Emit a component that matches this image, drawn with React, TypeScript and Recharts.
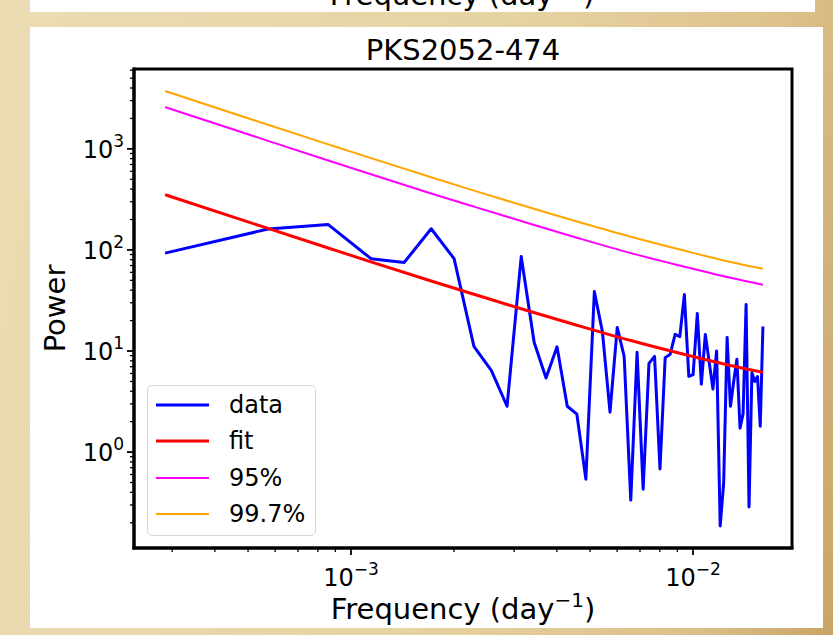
import React from "react";
import { LineChart, Line, XAxis, YAxis, Legend, ReferenceArea } from "recharts";

const FONT = "'DejaVu Sans', sans-serif";

// periodogram frequencies (day^-1)
const freq = [
  0.000286, 0.000572, 0.000858, 0.001144, 0.00143, 0.001716, 0.002002, 0.002288,
  0.002574, 0.00286, 0.003146, 0.003432, 0.003718, 0.004004, 0.00429, 0.004576,
  0.004862, 0.005148, 0.005434, 0.00572, 0.006006, 0.006292, 0.006578, 0.006864,
  0.00715, 0.007436, 0.007722, 0.008008, 0.008294, 0.00858, 0.008866, 0.009152,
  0.009438, 0.009724, 0.01001, 0.010296, 0.010582, 0.010868, 0.011154, 0.01144,
  0.011726, 0.012012, 0.012298, 0.012584, 0.01287, 0.013156, 0.013442, 0.013728,
  0.014014, 0.0143, 0.014586, 0.014872, 0.015158, 0.015444, 0.01573, 0.016016,
];
const power = [
  93, 161, 178, 82, 75, 162, 82, 11.1,
  6.4, 2.84, 86, 12.2, 5.4, 11.0, 2.84, 2.37,
  0.54, 38.7, 15.6, 2.48, 17.1, 8.85, 0.335, 9.7,
  0.43, 7.55, 8.85, 0.68, 8.6, 9.3, 14.6, 13.9,
  36.2, 5.6, 5.85, 23.5, 4.7, 14.6, 7.8, 4.2,
  10.0, 0.186, 0.5, 13.6, 2.84, 5.0, 8.3, 1.72,
  2.4, 28.8, 0.286, 6.1, 5.0, 5.6, 1.8, 17.5,
];

// model curves, read at a subset of frequencies
const fitFreq = [0.000286, 0.000572, 0.000858, 0.001144, 0.001716, 0.002288, 0.003146, 0.004576, 0.006578, 0.009152, 0.01287, 0.016016];
const fitPower = [352, 163.2, 104.5, 76.3, 49.3, 36.4, 26.2, 18.0, 12.7, 9.5, 7.2, 6.15];
const conf95 = [2587, 1200, 768, 561, 362, 268, 193, 132, 93, 70, 53, 45.2];
const conf997 = [3731, 1730, 1108, 809, 523, 386, 278, 191, 135, 101, 76, 65.2];

const xMajor = [0.001, 0.01];
const xMinor = [0.0003, 0.0004, 0.0005, 0.0006, 0.0007, 0.0008, 0.0009, 0.002, 0.003, 0.004, 0.005, 0.006, 0.007, 0.008, 0.009];
const yMajor = [1, 10, 100, 1000];
const yMinor = [
  0.2, 0.3, 0.4, 0.5, 0.6, 0.7, 0.8, 0.9,
  2, 3, 4, 5, 6, 7, 8, 9,
  20, 30, 40, 50, 60, 70, 80, 90,
  200, 300, 400, 500, 600, 700, 800, 900,
  2000, 3000, 4000, 5000, 6000,
];

const X_DOMAIN = [0.000232, 0.01948];
const Y_DOMAIN = [0.1125, 6166];

const series = [
  { name: "data", color: "#0000ff", width: 3 },
  { name: "fit", color: "#ff0000", width: 3 },
  { name: "95%", color: "#ff00ff", width: 2 },
  { name: "99.7%", color: "#ffa500", width: 2 },
];

const dataRows = freq.map((f, i) => ({ f, v: power[i] }));
const fitRows = fitFreq.map((f, i) => ({ f, v: fitPower[i] }));
const c95Rows = fitFreq.map((f, i) => ({ f, v: conf95[i] }));
const c997Rows = fitFreq.map((f, i) => ({ f, v: conf997[i] }));

const expText = (v: number) => String(Math.round(Math.log10(v))).replace("-", "\u2212");

const XTick = (props: any) => {
  const { x, y, payload } = props;
  const major = xMajor.includes(payload.value);
  return (
    <g>
      <line x1={x} x2={x} y1={y} y2={y + (major ? 7 : 4)} stroke="#000" strokeWidth={major ? 1.8 : 1.3} />
      {major && (
        <text x={x} y={y + 38} textAnchor="middle" fontSize={24} fontFamily={FONT} fill="#000">
          10<tspan dy={-11} fontSize={17}>{expText(payload.value)}</tspan>
        </text>
      )}
    </g>
  );
};

const YTick = (props: any) => {
  const { x, y, payload } = props;
  const major = yMajor.includes(payload.value);
  return (
    <g>
      <line x1={x} x2={x - (major ? 7 : 4)} y1={y} y2={y} stroke="#000" strokeWidth={major ? 1.8 : 1.3} />
      {major && (
        <text x={x - 10} y={y + 9} textAnchor="end" fontSize={24} fontFamily={FONT} fill="#000">
          10<tspan dy={-11} fontSize={17}>{expText(payload.value)}</tspan>
        </text>
      )}
    </g>
  );
};

const LegendBox = () => (
  <div
    style={{
      width: 169,
      height: 151,
      boxSizing: "border-box",
      border: "1px solid #d6d6d6",
      borderRadius: 5,
      background: "rgba(255,255,255,0.8)",
      position: "relative",
      fontFamily: FONT,
      fontSize: 24,
      color: "#000",
    }}
  >
    {series.map((s, i) => (
      <div key={s.name} style={{ position: "absolute", left: 0, top: 4 + i * 36.3, height: 30, display: "flex", alignItems: "center" }}>
        <svg width={81} height={30}>
          <line x1={8} x2={61} y1={15} y2={15} stroke={s.color} strokeWidth={s.width} />
        </svg>
        <span style={{ lineHeight: "30px" }}>{s.name}</span>
      </div>
    ))}
  </div>
);

const spine = { stroke: "#000", strokeWidth: 3, strokeLinecap: "square" as const };

export default function App() {
  return (
    <div
      style={{
        position: "absolute",
        left: 0,
        top: 0,
        width: 833,
        height: 635,
        overflow: "hidden",
        background: "linear-gradient(100deg, #ecdcb4 0%, #e6d3a2 55%, #dcc08a 85%, #c9a466 100%)",
      }}
    >
      <svg style={{ position: "absolute", left: 30, top: 0 }} width={785} height={12}>
        <rect x={0} y={0} width={785} height={12} fill="#fff" />
        <text x={432} y={5} textAnchor="middle" fontSize={29} fontFamily={FONT} fill="#000">
          Frequency (day<tspan dy={-12} fontSize={20}>{"\u2212"}1</tspan><tspan dy={12}>)</tspan>
        </text>
      </svg>
      <div style={{ position: "absolute", left: 30, top: 27, width: 793, height: 601, background: "#fff" }}>
        <svg style={{ position: "absolute", left: 0, top: 0 }} width={793} height={42}>
          <text x={433} y={33} textAnchor="middle" fontSize={29} fontFamily={FONT} fill="#000">
            PKS2052-474
          </text>
        </svg>
        <LineChart width={793} height={601} margin={{ top: 42, right: 31, bottom: 0, left: 0 }}>
          <XAxis
            dataKey="f"
            type="number"
            scale="log"
            domain={X_DOMAIN}
            allowDataOverflow
            ticks={[...xMinor, ...xMajor]}
            interval={0}
            tick={<XTick />}
            tickLine={false}
            tickSize={0}
            tickMargin={0}
            axisLine={spine}
            height={80}
            label={({ viewBox }: any) => (
              <text x={viewBox.x + viewBox.width / 2} y={viewBox.y + 71} textAnchor="middle" fontSize={29} fontFamily={FONT} fill="#000">
                Frequency (day<tspan dy={-12} fontSize={20}>{"\u2212"}1</tspan><tspan dy={12}>)</tspan>
              </text>
            )}
          />
          <YAxis
            type="number"
            scale="log"
            domain={Y_DOMAIN}
            allowDataOverflow
            ticks={[...yMinor, ...yMajor]}
            interval={0}
            tick={<YTick />}
            tickLine={false}
            tickSize={0}
            tickMargin={0}
            axisLine={spine}
            width={104}
            label={({ viewBox }: any) => {
              const cy = viewBox.y + viewBox.height / 2;
              return (
                <text x={35} y={cy} transform={`rotate(-90 35 ${cy})`} textAnchor="middle" fontSize={29} fontFamily={FONT} fill="#000">
                  Power
                </text>
              );
            }}
          />
          <Line data={dataRows} dataKey="v" name="data" type="linear" stroke="#0000ff" strokeWidth={3} strokeLinejoin="round" dot={false} isAnimationActive={false} />
          <Line data={fitRows} dataKey="v" name="fit" type="monotone" stroke="#ff0000" strokeWidth={3} dot={false} isAnimationActive={false} />
          <Line data={c95Rows} dataKey="v" name="95%" type="monotone" stroke="#ff00ff" strokeWidth={2} dot={false} isAnimationActive={false} />
          <Line data={c997Rows} dataKey="v" name="99.7%" type="monotone" stroke="#ffa500" strokeWidth={2} dot={false} isAnimationActive={false} />
          <ReferenceArea
            x1={X_DOMAIN[0]}
            x2={X_DOMAIN[1]}
            y1={Y_DOMAIN[0]}
            y2={Y_DOMAIN[1]}
            fill="none"
            fillOpacity={0}
            stroke="#000"
            strokeWidth={3}
            ifOverflow="visible"
          />
          <Legend
            layout="vertical"
            align="center"
            verticalAlign="middle"
            content={() => <LegendBox />}
            wrapperStyle={{ position: "absolute", left: 117, top: 358, width: 169, height: 151 }}
          />
        </LineChart>
      </div>
    </div>
  );
}
